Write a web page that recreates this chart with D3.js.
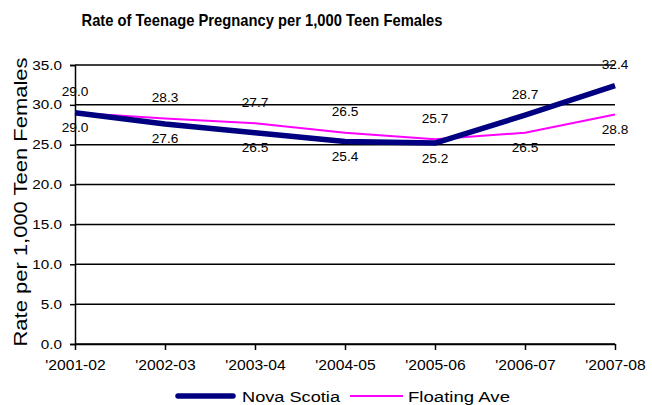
<!DOCTYPE html>
<html><head><meta charset="utf-8">
<script src="https://cdn.jsdelivr.net/npm/d3@7"></script>
<style>body{margin:0;background:#fff}svg{display:block}text{font-family:"Liberation Sans",Arial,sans-serif}</style>
</head><body>
<svg id="c" width="652" height="405"></svg>
<script>
const categories = ["'2001-02","'2002-03","'2003-04","'2004-05","'2005-06","'2006-07","'2007-08"];
const novaScotia = [29.0, 27.6, 26.5, 25.4, 25.2, 28.7, 32.4];
const floatingAve = [29.0, 28.3, 27.7, 26.5, 25.7, 26.5, 28.8];
const yTicks = [0, 5, 10, 15, 20, 25, 30, 35];
const seriesNames = ["Nova Scotia", "Floating Ave"];

const svg = d3.select("#c");
const L = 75, R = 615, T = 65, B = 344;
const x = d3.scalePoint().domain(categories).range([L, R]);
const y = d3.scaleLinear().domain([0, 35]).range([B, T]);

// stretch text horizontally (reference glyphs are wider than the font)
function stretch(sel, k) {
  sel.each(function () {
    const w = this.getComputedTextLength();
    d3.select(this).attr("textLength", w * k).attr("lengthAdjust", "spacingAndGlyphs");
  });
}

// title
svg.append("text").attr("x", 262).attr("y", 26).attr("text-anchor", "middle")
  .attr("font-size", 16.5).attr("font-weight", "bold")
  .attr("textLength", 361).attr("lengthAdjust", "spacingAndGlyphs")
  .text("Rate of Teenage Pregnancy per 1,000 Teen Females");

// gridlines
svg.append("g").selectAll("line").data(yTicks).join("line")
  .attr("x1", L).attr("x2", R).attr("y1", d => y(d)).attr("y2", d => y(d))
  .attr("stroke", "#000").attr("stroke-width", 1.5);

// y axis
const ya = svg.append("g").attr("transform", `translate(${L},0)`)
  .call(d3.axisLeft(y).tickValues(yTicks).tickFormat(d3.format(".1f")).tickSize(5).tickPadding(8));
ya.select(".domain").attr("stroke", "#000").attr("stroke-width", 1.5);
ya.selectAll(".tick line").attr("stroke-width", 1.5);
ya.selectAll("text").attr("font-size", 12.5).attr("font-family", "Liberation Sans, Arial, sans-serif").attr("fill", "#000")
  .call(stretch, 1.22);

// x axis
const xa = svg.append("g").attr("transform", `translate(0,${B})`)
  .call(d3.axisBottom(x).tickSize(6).tickPadding(10).tickSizeOuter(0));
xa.select(".domain").attr("stroke", "#000").attr("stroke-width", 1.5);
xa.selectAll(".tick line").attr("stroke-width", 1.5);
xa.selectAll("text").attr("font-size", 14.5).attr("font-family", "Liberation Sans, Arial, sans-serif").attr("fill", "#000")
  .call(stretch, 1.08);

// y axis title
svg.append("text").attr("transform", `translate(27,${202}) rotate(-90)`)
  .attr("text-anchor", "middle").attr("font-size", 18.5)
  .attr("textLength", 289).attr("lengthAdjust", "spacingAndGlyphs")
  .text("Rate per 1,000 Teen Females");

const line = d3.line().x((d, i) => x(categories[i])).y(d => y(d));
svg.append("path").datum(floatingAve).attr("d", line).attr("fill", "none")
  .attr("stroke", "#FF00FF").attr("stroke-width", 2);
svg.append("path").datum(novaScotia).attr("d", line).attr("fill", "none")
  .attr("stroke", "#000080").attr("stroke-width", 5.5).attr("stroke-linejoin", "round");

// data labels
function labels(vals, other) {
  svg.append("g").selectAll("text").data(vals).join("text")
    .attr("x", (d, i) => x(categories[i]))
    .attr("y", (d, i) => y(d) + (d >= other[i] ? -21 : 15) + 4.5)
    .attr("text-anchor", "middle").attr("font-size", 12)
    .text(d => d3.format(".1f")(d))
    .call(stretch, 1.14);
}
labels(novaScotia, floatingAve);
labels(floatingAve, novaScotia.map(v => v + 0.001));

// legend
const lg = svg.append("g");
lg.append("line").attr("x1", 178).attr("x2", 233).attr("y1", 396).attr("y2", 396)
  .attr("stroke", "#000080").attr("stroke-width", 5.5).attr("stroke-linecap", "round");
lg.append("text").attr("x", 242).attr("y", 402).attr("font-size", 15.5)
  .attr("textLength", 98).attr("lengthAdjust", "spacingAndGlyphs").text(seriesNames[0]);
lg.append("line").attr("x1", 350).attr("x2", 403).attr("y1", 396).attr("y2", 396)
  .attr("stroke", "#FF00FF").attr("stroke-width", 2);
lg.append("text").attr("x", 408).attr("y", 402).attr("font-size", 15.5)
  .attr("textLength", 102).attr("lengthAdjust", "spacingAndGlyphs").text(seriesNames[1]);
</script>
</body></html>
